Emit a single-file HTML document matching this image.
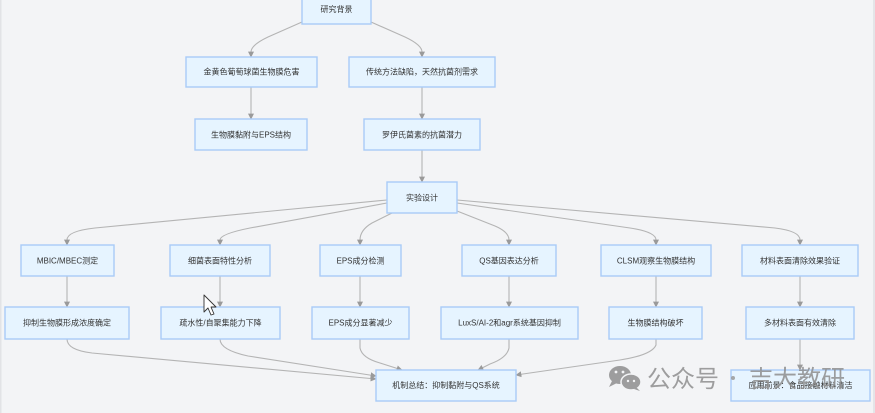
<!DOCTYPE html>
<html>
<head>
<meta charset="utf-8">
<style>
html,body{margin:0;padding:0;width:875px;height:413px;overflow:hidden;background:#f3f4f6;}
svg{display:block;}
text{font-family:"Liberation Sans","Noto Sans CJK SC",sans-serif;}
</style>
</head>
<body>
<svg width="875" height="413" viewBox="0 0 875 413" xmlns="http://www.w3.org/2000/svg">
<defs>
<marker id="a" viewBox="0 0 10 10" refX="9" refY="5" markerWidth="6" markerHeight="6" orient="auto-start-reverse" markerUnits="userSpaceOnUse">
<path d="M0,0 L10,5 L0,10 z" fill="#9a9a9a"/>
</marker>
</defs>
<rect x="0" y="0" width="875" height="413" fill="#f3f4f6"/>
<rect x="0" y="0" width="1.5" height="413" fill="#e2e3e6"/>
<rect x="873" y="0" width="2" height="413" fill="#e4e5e8"/>

<g fill="none" stroke="#b4b4b4" stroke-width="1.1" marker-end="url(#a)">
<path d="M302,22 L268,37 Q251,45 251,52 L251,57"/>
<path d="M371,22 L405,37 Q422,45 422,52 L422,57"/>
<path d="M251,87 L251,119"/>
<path d="M422,87 L422,119"/>
<path d="M422,150 L422,182"/>
<path d="M387,200 L95,228 Q67,231 67,240 L67,245"/>
<path d="M387,203 L250,228 Q220,234 220,240 L220,245"/>
<path d="M392,213 L372,223 Q360,230 360,240 L360,245"/>
<path d="M457,211 L495,226 Q509,232 509,240 L509,245"/>
<path d="M457,203 L630,228 Q656,232 656,240 L656,245"/>
<path d="M457,200 L775,228 Q800,231 800,240 L800,245"/>
<path d="M67,276 L67,307"/>
<path d="M220,276 L220,307"/>
<path d="M360,276 L360,307"/>
<path d="M509,276 L509,307"/>
<path d="M656,276 L656,307"/>
<path d="M800,276 L800,307"/>
<path d="M67,339 Q67,350 92,353 L376,379"/>
<path d="M220,339 Q220,350 248,356 L376,376"/>
<path d="M360,339 L360,348 Q362,358 380,363 L402,370"/>
<path d="M509,339 L509,348 Q507,358 490,364 L478,370"/>
<path d="M656,339 L656,345 Q652,355 620,360 L516,375"/>
<path d="M800,339 L800,370"/>
</g>

<g fill="#e6f4ff" stroke="#a9cbf7" stroke-width="1.4">
<rect x="302" y="-6" width="69" height="30"/>
<rect x="186" y="57" width="131" height="30"/>
<rect x="349" y="57" width="146" height="30"/>
<rect x="195" y="119" width="112" height="31"/>
<rect x="364" y="119" width="116" height="31"/>
<rect x="387" y="182" width="70" height="31"/>
<rect x="21" y="245" width="93" height="31"/>
<rect x="170" y="245" width="100" height="31"/>
<rect x="320" y="245" width="81" height="31"/>
<rect x="462" y="245" width="94" height="31"/>
<rect x="601" y="245" width="110" height="31"/>
<rect x="742" y="245" width="116" height="31"/>
<rect x="5" y="307" width="124" height="32"/>
<rect x="161" y="307" width="119" height="32"/>
<rect x="312" y="307" width="97" height="32"/>
<rect x="441" y="307" width="137" height="32"/>
<rect x="609" y="307" width="93" height="32"/>
<rect x="746" y="307" width="108" height="32"/>
<rect x="376" y="370" width="140" height="31"/>
<rect x="731" y="370" width="139" height="31"/>
</g>

<g font-size="8" fill="#333" text-anchor="middle" dominant-baseline="central">
<text x="336.5" y="9.5">研究背景</text>
<text x="251.5" y="72">金黄色葡萄球菌生物膜危害</text>
<text x="422" y="72">传统方法缺陷，天然抗菌剂需求</text>
<text x="251" y="135">生物膜黏附与EPS结构</text>
<text x="422" y="135">罗伊氏菌素的抗菌潜力</text>
<text x="422" y="198">实验设计</text>
<text x="67.5" y="261">MBIC/MBEC测定</text>
<text x="220" y="261">细菌表面特性分析</text>
<text x="360.5" y="261">EPS成分检测</text>
<text x="509" y="261">QS基因表达分析</text>
<text x="656" y="261">CLSM观察生物膜结构</text>
<text x="800" y="261">材料表面清除效果验证</text>
<text x="67" y="323">抑制生物膜形成浓度确定</text>
<text x="220.5" y="323">疏水性/自聚集能力下降</text>
<text x="360.5" y="323">EPS成分显著减少</text>
<text x="509.5" y="323">LuxS/AI-2和agr系统基因抑制</text>
<text x="655.5" y="323">生物膜结构破坏</text>
<text x="800" y="323">多材料表面有效清除</text>
<text x="446" y="385.5">机制总结：抑制黏附与QS系统</text>
<text x="800.5" y="385.5">应用前景：食品接触材料清洁</text>
</g>

<!-- watermark -->
<g opacity="0.85">
<ellipse cx="620" cy="375" rx="11" ry="9" fill="#8f8f8f"/>
<path d="M612,381 L609,387 L617,383 z" fill="#8f8f8f"/>
<ellipse cx="631" cy="382" rx="10" ry="8" fill="#8f8f8f" stroke="#f3f4f6" stroke-width="1.5"/>
<path d="M636,387 L640,391 L634,389 z" fill="#8f8f8f"/>
<circle cx="616" cy="372" r="1.4" fill="#f3f4f6"/>
<circle cx="623" cy="372" r="1.4" fill="#f3f4f6"/>
<circle cx="628" cy="381" r="1.2" fill="#f3f4f6"/>
<circle cx="634" cy="381" r="1.2" fill="#f3f4f6"/>
<text x="647" y="387" font-size="24" fill="#8f8f8f">公众号</text>
<circle cx="733" cy="378" r="2" fill="#9a9a9a"/>
<text x="749" y="387" font-size="24" fill="#8f8f8f">吉大教研</text>
</g>

<!-- cursor -->
<path d="M204,295 L204,312 L208,308 L211,315 L214,314 L211,307 L216,307 Z" fill="#ffffff" stroke="#333" stroke-width="0.9" stroke-linejoin="round"/>
</svg>
</body>
</html>
